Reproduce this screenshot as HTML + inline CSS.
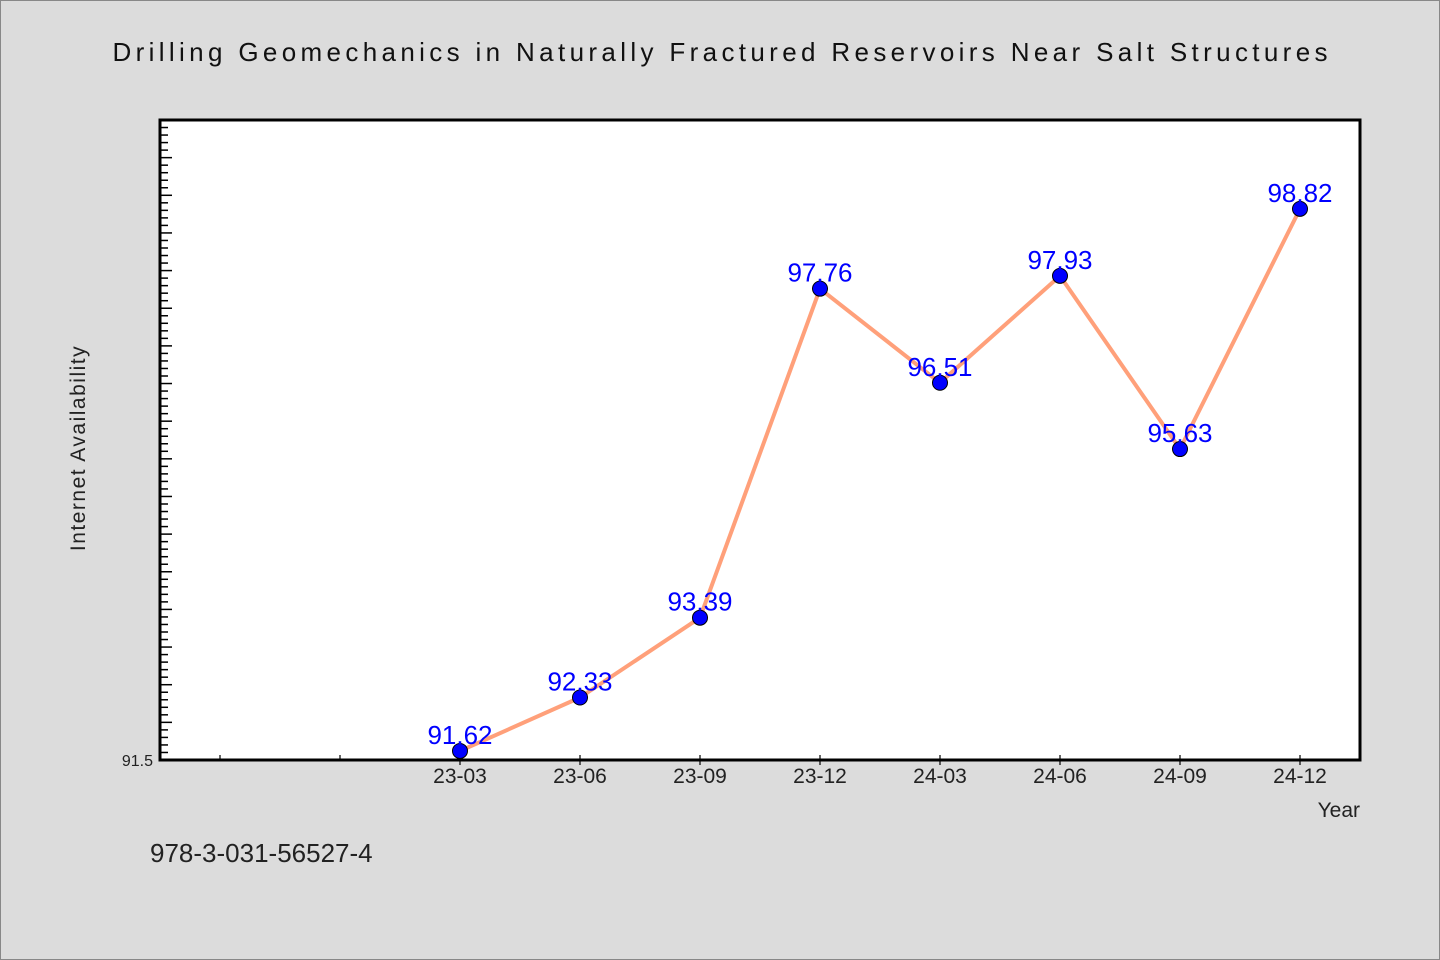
<!DOCTYPE html>
<html><head><meta charset="utf-8"><style>
html,body{margin:0;padding:0;background:#dcdcdc;}
svg{display:block;font-family:"WenQuanYi Zen Hei","Liberation Sans",sans-serif;}
</style></head><body>
<svg id="chart" width="1440" height="960" viewBox="0 0 1440 960">
<rect x="0.5" y="0.5" width="1439" height="959" fill="#dcdcdc" stroke="#888"/>
<text x="720" y="61" text-anchor="middle" font-size="26" textLength="1215" fill="#111">Drilling Geomechanics in Naturally Fractured Reservoirs Near Salt Structures</text>
<rect x="160" y="120" width="1200" height="640" fill="#fff"/>
<g id="ticks"></g>
<g id="series"></g>
<rect x="160" y="120" width="1200" height="640" fill="none" stroke="#000" stroke-width="3"/>
<text x="153" y="766" text-anchor="end" font-size="16" fill="#222">91.5</text>
<text x="85" y="448" text-anchor="middle" font-size="21" fill="#222" transform="rotate(-90 85 448)" letter-spacing="1.5">Internet Availability</text>
<text x="1360" y="817" text-anchor="end" font-size="21" fill="#222">Year</text>
<text x="150" y="862" font-size="26" fill="#222">978-3-031-56527-4</text>
</svg>
<script>
const categories = ["", "", "23-03","23-06","23-09","23-12","24-03","24-06","24-09","24-12"];
const values = [null, null, 91.62, 92.33, 93.39, 97.76, 96.51, 97.93, 95.63, 98.82];
const valueLabels = ["", "", "91.62","92.33","93.39","97.76","96.51","97.93","95.63","98.82"];
const yMin = 91.5, yMax = 100;
const NS = "http://www.w3.org/2000/svg";
const X0 = 160, X1 = 1360, Y0 = 760, Y1 = 120;
function xPos(i){ return X0 + (X1 - X0) / categories.length * (i + 0.5); }
function yPos(v){ return Y0 - (v - yMin) / (yMax - yMin) * (Y0 - Y1); }
function mk(tag, attrs, parent){ const e = document.createElementNS(NS, tag); for (const k in attrs) e.setAttribute(k, attrs[k]); parent.appendChild(e); return e; }
const tg = document.getElementById('ticks');
for (let k = 1; ; k++) {
  const v = yMin + k * 0.1;
  if (v > yMax - 0.01) break;
  const y = yPos(v);
  const len = (k % 5 === 0) ? 12 : 8;
  const t = mk('line', {x1: X0, x2: X0 + len, y1: y, y2: y, stroke: '#000', 'stroke-width': 1.5}, tg);
  
  
}
categories.forEach((c, i) => {
  const x = xPos(i);
  const t = mk('line', {x1: x, x2: x, y1: Y0 - 5, y2: Y0 + (c ? 5 : 0), stroke: '#000', 'stroke-width': 1.2}, tg);
  
  
  if (c) {
    const l = mk('text', {x: x, y: 783, 'text-anchor': 'middle', 'font-size': 21, fill: '#222'}, tg);
    l.textContent = c;
    
    
  }
});
const sg = document.getElementById('series');
const pts = [];
values.forEach((v, i) => { if (v !== null) pts.push([xPos(i), yPos(v), i]); });
const line = mk('polyline', {points: pts.map(p => p[0] + ',' + p[1]).join(' '), fill: 'none', stroke: '#ffa07a', 'stroke-width': 4, 'stroke-linejoin': 'round'}, sg);


pts.forEach(p => {
  const c = mk('circle', {cx: p[0], cy: p[1], r: 7.5, fill: '#0000ff', stroke: '#000', 'stroke-width': 1}, sg);
  
  
});
pts.forEach(p => {
  const l = mk('text', {x: p[0], y: p[1] - 7, 'text-anchor': 'middle', 'font-size': 26, fill: '#0000ff'}, sg);
  l.textContent = valueLabels[p[2]];
  
  
});
</script>
</body></html>
